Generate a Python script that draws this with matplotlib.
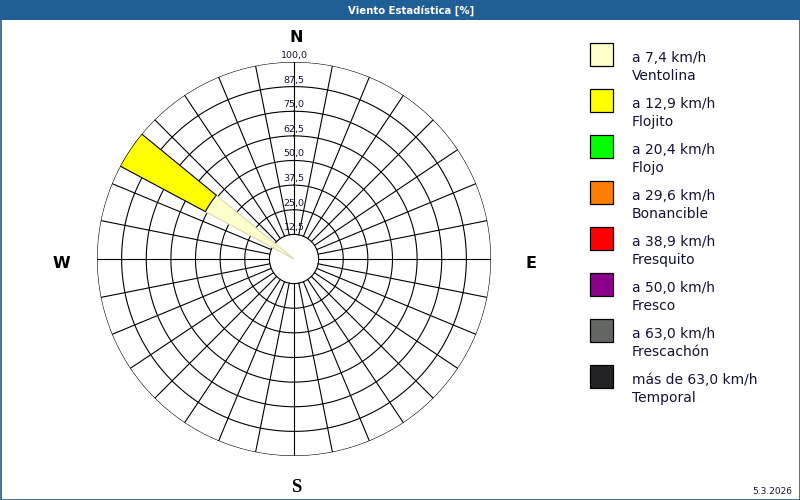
import numpy as np
import matplotlib
matplotlib.use("Agg")
import matplotlib.pyplot as plt
from matplotlib.patches import Rectangle

# wind rose data: one sector (NW by W) carries all the wind
wind_dir = [303.75]
class_pct = {
    "ventolina": [51.0],
    "flojito": [49.0],
    "flojo": [0.0],
    "bonancible": [0.0],
    "fresquito": [0.0],
    "fresco": [0.0],
    "frescachon": [0.0],
    "temporal": [0.0],
}
class_colors = ["#FFFFCC", "#FFFF00", "#00FF00", "#FF8000",
                "#FF0000", "#8B008B", "#646664", "#232326"]
legend_top = ["a 7,4 km/h", "a 12,9 km/h", "a 20,4 km/h", "a 29,6 km/h",
              "a 38,9 km/h", "a 50,0 km/h", "a 63,0 km/h", "más de 63,0 km/h"]
legend_bottom = ["Ventolina", "Flojito", "Flojo", "Bonancible",
                 "Fresquito", "Fresco", "Frescachón", "Temporal"]
ring_values = [12.5, 25.0, 37.5, 50.0, 62.5, 75.0, 87.5, 100.0]
n_sectors = 32
sector_width = 360.0 / n_sectors

bar_blue = "#1F5F96"
text_col = "#141432"

fig = plt.figure(figsize=(8, 5), dpi=100)

# background canvas in pixel coords
canvas = fig.add_axes([0, 0, 1, 1])
canvas.set_xlim(0, 800)
canvas.set_ylim(500, 0)
canvas.axis("off")
canvas.add_patch(Rectangle((0, 0), 800, 20, color=bar_blue, lw=0))
canvas.add_patch(Rectangle((0.5, 0.5), 799, 499, fill=False, ec=bar_blue, lw=1.2))
canvas.text(411, 10.5, "Viento Estadística [%]", color="white", fontsize=7.3,
            fontweight="bold", ha="center", va="center")
canvas.text(792, 491, "5.3.2026", color=text_col, fontsize=6.5, ha="right", va="center")

# legend
for i, (col, t1, t2) in enumerate(zip(class_colors, legend_top, legend_bottom)):
    y0 = 43 + i * 46
    canvas.add_patch(Rectangle((590, y0), 23, 23, fc=col, ec="black", lw=0.9))
    canvas.text(632, y0 + 19, t1, fontsize=10, color=text_col, va="baseline")
    canvas.text(632, y0 + 37, t2, fontsize=10, color=text_col, va="baseline")

# compass letters
canvas.text(296, 37, "N", fontsize=11.5, fontweight="bold", ha="center", va="center", color="black")
canvas.text(61, 264, "W", fontsize=11.5, fontweight="bold", ha="center", va="center", color="black")
canvas.text(531, 264, "E", fontsize=11.5, fontweight="bold", ha="center", va="center", color="black")
canvas.text(296, 488, "S", fontsize=13.5, fontweight="bold", family="Liberation Serif",
            ha="center", va="center", color="black")

# polar rose
ax = fig.add_axes([0.12125, 0.088, 0.4925, 0.788], projection="polar")
ax.set_theta_zero_location("N")
ax.set_theta_direction(-1)
ax.set_ylim(0, 100)
ax.axis("off")

full = np.linspace(0, 2 * np.pi, 400)
for r in ring_values:
    ax.plot(full, np.full_like(full, r), color="black", lw=0.8, zorder=1)
for k in range(n_sectors):
    t = np.deg2rad(k * sector_width)
    ax.plot([t, t], [ring_values[0], 100], color="black", lw=0.8, zorder=1)

theta = np.deg2rad(wind_dir)
bottom = np.zeros(len(wind_dir))
for (name, vals), col in zip(class_pct.items(), class_colors):
    vals = np.array(vals)
    if vals.sum() == 0:
        continue
    ec = "black" if col != "#FFFFCC" else "#D8D8B0"
    ax.bar(theta, vals, width=np.deg2rad(sector_width), bottom=bottom,
           color=col, edgecolor=ec, lw=0.8, zorder=3)
    bottom += vals

for r in ring_values:
    ax.annotate(f"{r:.1f}".replace(".", ","), xy=(0, r), xytext=(0, 1.5),
                textcoords="offset points", ha="center", va="bottom",
                fontsize=6.8, color=text_col, zorder=4)

fig.savefig("out.png", dpi=100)
